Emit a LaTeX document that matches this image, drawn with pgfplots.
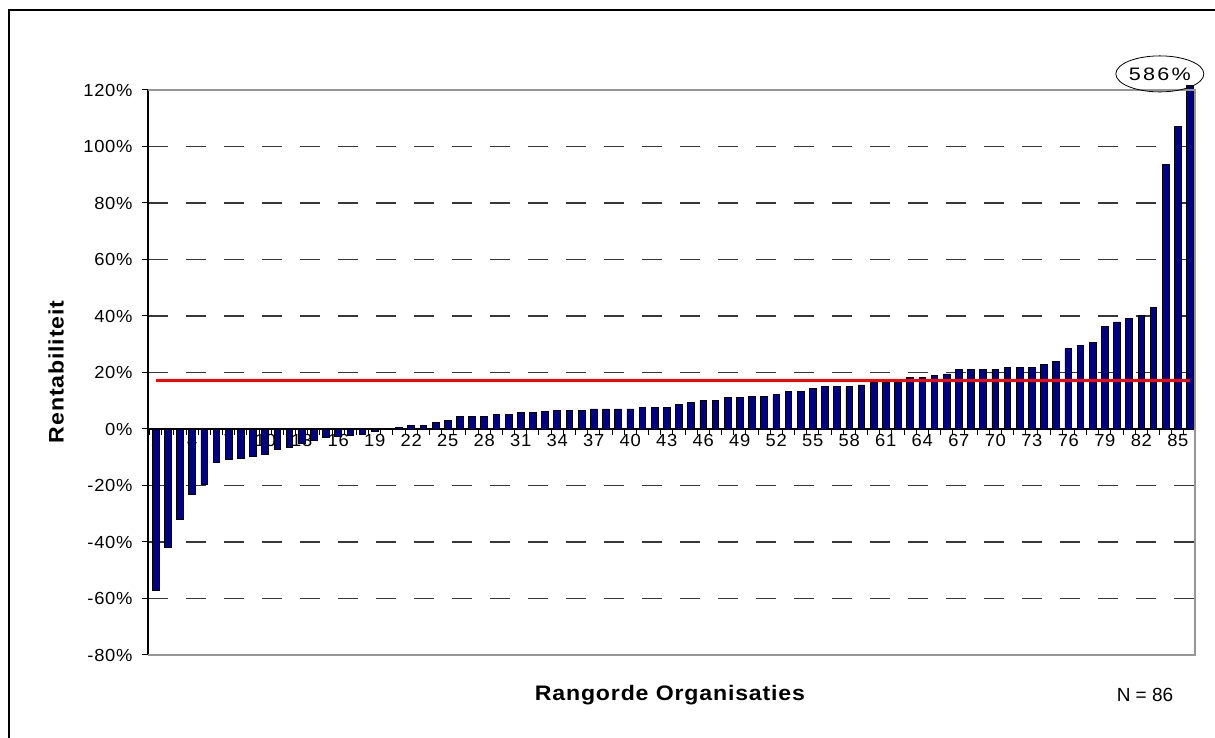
\documentclass[border=0pt]{standalone}
\usepackage{pgfplots}
\pgfplotsset{compat=1.18}
\usepackage{fontspec}
\setmainfont{Liberation Sans}
\usetikzlibrary{shapes.geometric}
\definecolor{barnavy}{RGB}{0,0,128}
\definecolor{gridgray}{RGB}{55,55,55}
\definecolor{framegray}{RGB}{150,150,150}

\pgfplotstableread{
x y
1 -57
2 -42
3 -32
4 -23.3
5 -19.7
6 -12.0
7 -10.6
8 -10.3
9 -9.7
10 -9.1
11 -7.3
12 -6.4
13 -5.2
14 -4.1
15 -3.1
16 -2.6
17 -2.4
18 -1.8
19 -0.7
20 -0.2
21 0.6
22 1.2
23 1.2
24 2.2
25 2.9
26 4.4
27 4.4
28 4.4
29 5.0
30 5.0
31 5.7
32 5.7
33 6.1
34 6.7
35 6.7
36 6.7
37 7.1
38 7.1
39 7.1
40 7.1
41 7.7
42 7.7
43 7.7
44 8.8
45 9.4
46 10.0
47 10.0
48 11.1
49 11.1
50 11.6
51 11.6
52 12.2
53 13.3
54 13.3
55 14.4
56 15.0
57 15.0
58 15.0
59 15.6
60 16.4
61 16.4
62 16.4
63 18.3
64 18.3
65 18.8
66 19.5
67 21.1
68 21.1
69 21.1
70 21.1
71 21.7
72 21.7
73 21.7
74 22.8
75 23.8
76 28.4
77 29.5
78 30.7
79 36.2
80 37.9
81 39.1
82 40.1
83 43.1
84 93.7
85 107.1
86 586
}\datatable

\begin{document}
\begin{tikzpicture}
\draw[black, line width=1.3pt] (9pt,0) -- (9pt,728pt) -- (1215pt,728pt);
\begin{axis}[
  at={(148pt,83pt)}, anchor=south west,
  scale only axis, width=1047pt, height=565pt,
  xmin=0.37, xmax=86.41, ymin=-80, ymax=120,
  set layers,
  clip=false,
  /pgf/number format/assume math mode=true,
  axis x line=middle, axis y line=left,
  hide obscured x ticks=false, hide obscured y ticks=false,
  axis line style={-, black, line width=1.3pt},
  tick align=outside,
  major tick length=0pt,
  minor tick length=6pt,
  tick style={black, line width=1pt},
  xtick={1,4,...,85},
  ytick={-80,-60,...,120},
  minor ytick={-80,-60,...,120},
  yticklabels={-80\%,-60\%,-40\%,-20\%,0\%,20\%,40\%,60\%,80\%,100\%,120\%},
  ymajorgrids,
  grid style={gridgray, line width=1.6pt, dash pattern=on 20pt off 18pt},
  tick label style={font=\fontsize{17.5}{20}\selectfont\addfontfeature{FakeStretch=1.05,LetterSpace=4}},
  xticklabel style={yshift=-2pt},
  yticklabel style={xshift=-12pt},
  xlabel={Rangorde Organisaties},
  xlabel style={at={(axis cs:43.26,-94.2)}, anchor=center,
    font=\fontsize{21}{25}\selectfont\bfseries\addfontfeature{FakeStretch=1.1,LetterSpace=4}},
  ylabel={Rentabiliteit},
  ylabel style={at={(axis cs:-7.19,20.2)}, anchor=center,
    font=\fontsize{21}{25}\selectfont\bfseries\addfontfeature{FakeStretch=1.1,LetterSpace=4}},
]
\addplot[ybar, bar width=6.7pt, fill=barnavy, draw=black, line width=0.8pt,
  restrict y to domain*=-80:121.5] table[x=x, y=y] {\datatable};
\pgfplotsinvokeforeach{0.5,1.5,...,85.5}{
  \draw[black, line width=1pt] (axis cs:#1,0) -- ([yshift=-6pt]axis cs:#1,0);
}
\addplot[red, line width=3pt, no marks] coordinates {(1,17) (86,17)};
\draw[framegray, line width=1.2pt] (rel axis cs:0,0) -- (rel axis cs:1,0) -- (rel axis cs:1,1) -- (rel axis cs:0,1);
\node[draw, ellipse, line width=0.8pt, minimum width=88pt, minimum height=36pt, inner sep=0pt,
  font=\fontsize{18}{21}\selectfont\addfontfeature{FakeStretch=1.2,LetterSpace=12}] at (axis cs:83.52,125.7) {586\%};
\node[font=\fontsize{19}{22}\selectfont] at (axis cs:82.3,-94.2) {N = 86};
\end{axis}
\pgfresetboundingbox
\path[use as bounding box] (0,0) rectangle (1215pt,738pt);
\end{tikzpicture}
\end{document}
